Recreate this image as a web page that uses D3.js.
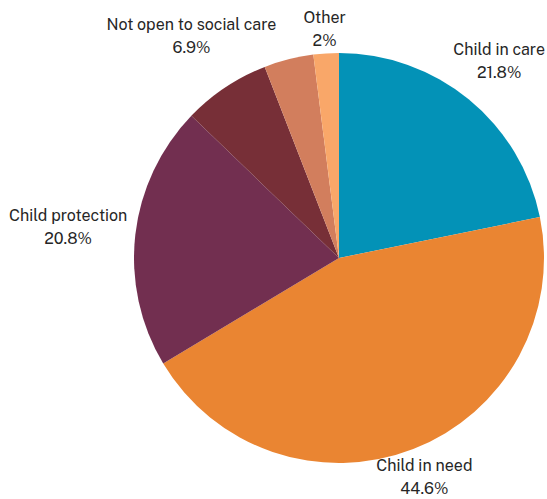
<!DOCTYPE html>
<html>
<head>
<meta charset="utf-8">
<script src="https://cdn.jsdelivr.net/npm/d3@7"></script>
<style>
  html, body { margin: 0; padding: 0; background: #fff; }
  svg { display: block; }
  text { font-family: "Public Sans", Inter, "Noto Sans", sans-serif; font-size: 16px; fill: #262626; }
</style>
</head>
<body>
<svg id="chart" width="547" height="499"></svg>
<script>
// Share of cases by social care status (percent), clockwise from 12 o'clock
const categories = ["Child in care", "Child in need", "Child protection", "Not open to social care", "Not recorded", "Other"];
const values = [21.8, 44.6, 20.8, 6.9, 3.9, 2];
const showLabel = [true, true, true, true, false, true];

// Presentation settings
const colors = ["#0392B7", "#EA8532", "#722F50", "#772F37", "#D27E5D", "#F9A769"];
const labelGap = [21, 8, 8, 36, 0, 3];

const width = 547, height = 499;
const cx = 339, cy = 258, radius = 205;

const svg = d3.select("#chart");
const g = svg.append("g").attr("transform", `translate(${cx},${cy})`);

const data = categories.map((c, i) => ({ name: c, value: values[i], i }));

const pie = d3.pie().value(d => d.value).sort(null);
const arc = d3.arc().innerRadius(0).outerRadius(radius);
const arcs = pie(data);

g.selectAll("path.slice")
  .data(arcs)
  .join("path")
  .attr("class", "slice")
  .attr("d", arc)
  .attr("fill", d => colors[d.data.i]);

const lineH = 23;
const labels = g.selectAll("g.label")
  .data(arcs.filter(d => showLabel[d.data.i]))
  .join("g")
  .attr("class", "label");

labels.each(function(d) {
  const el = d3.select(this);
  const t = el.append("text").attr("text-anchor", "middle");
  t.append("tspan").attr("x", 0).attr("y", -lineH / 2 + 5).text(d.data.name);
  t.append("tspan").attr("x", 0).attr("y", lineH / 2 + 5).text(d3.format("~")(d.data.value) + "%");
  const bb = t.node().getBBox();
  const mid = (d.startAngle + d.endAngle) / 2;
  const s = Math.sin(mid), c = Math.cos(mid);
  // distance from the box centre to its edge along the radial direction
  const ext = Math.min(
    Math.abs(s) > 1e-6 ? (bb.width / 2) / Math.abs(s) : Infinity,
    Math.abs(c) > 1e-6 ? (bb.height / 2) / Math.abs(c) : Infinity
  );
  const dist = radius + labelGap[d.data.i] + ext;
  el.attr("transform", `translate(${dist * s},${-dist * c})`);
});
</script>
</body>
</html>
